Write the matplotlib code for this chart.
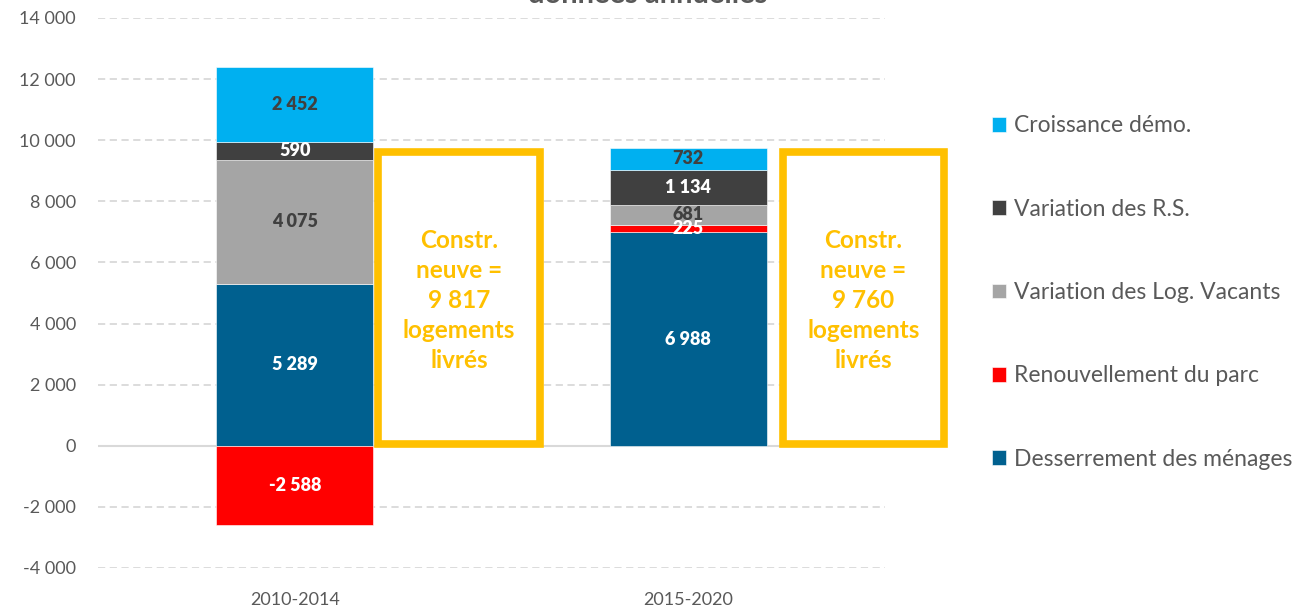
import matplotlib
matplotlib.use("Agg")
import matplotlib.pyplot as plt
from matplotlib.patches import Rectangle
from matplotlib.ticker import FuncFormatter
import numpy as np

plt.rcParams['font.family'] = ['Lato', 'DejaVu Sans']

categories = ["2010-2014", "2015-2020"]
series_names = ["Desserrement des ménages", "Renouvellement du parc",
                "Variation des Log. Vacants", "Variation des R.S.", "Croissance démo."]
desserrement = [5289, 6988]
renouvellement = [-2588, 225]
log_vacants = [4075, 681]
res_secondaires = [590, 1134]
croissance = [2452, 732]
constr_neuve = [9817, 9760]

series_values = [desserrement, renouvellement, log_vacants, res_secondaires, croissance]
series_colors = ["#00608F", "#FF0000", "#A5A5A5", "#404040", "#00B0F0"]
label_colors = ["white", "white", "#404040", "white", "#404040"]

W, H = 1311, 613
fig = plt.figure(figsize=(W / 100, H / 100), dpi=100)
ax = fig.add_axes([98 / W, 1 - 568 / H, (885 - 98) / W, (568 - 18) / H])

x = np.arange(len(categories))
bar_w = 0.4
pos_base = np.zeros(len(categories))
neg_base = np.zeros(len(categories))
handles = []
for name, vals, col, lcol in zip(series_names, series_values, series_colors, label_colors):
    vals = np.array(vals, dtype=float)
    bottoms = np.where(vals >= 0, pos_base, neg_base)
    b = ax.bar(x, vals, bar_w, bottom=bottoms, color=col, edgecolor="white",
               linewidth=0.4, label=name, zorder=3)
    handles.append(b)
    for xi, v, bt in zip(x, vals, bottoms):
        txt = f"{int(v):,}".replace(",", " ")
        ax.text(xi, bt + v / 2, txt, ha="center", va="center", color=lcol,
                fontsize=13, fontweight="heavy", zorder=5)
    pos_base = pos_base + np.where(vals >= 0, vals, 0)
    neg_base = neg_base + np.where(vals < 0, vals, 0)

ax.set_xlim(-0.5, 1.5)
ax.set_ylim(-4000, 14000)
ax.set_yticks(np.arange(-4000, 14001, 2000))
ax.yaxis.set_major_formatter(FuncFormatter(lambda v, p: f"{int(v):,}".replace(",", " ")))
ax.set_xticks(x)
ax.set_xticklabels(categories)
ax.tick_params(axis="both", length=0, labelsize=13, colors="#595959")
ax.tick_params(axis="y", pad=16)
ax.tick_params(axis="x", pad=17)
for s in ax.spines.values():
    s.set_visible(False)
ax.grid(axis="y", color="#D9D9D9", linestyle=(0, (4, 2.5)), linewidth=1.3, zorder=0)
ax.axhline(0, color="#D9D9D9", linewidth=1.5, zorder=2)

# Yellow annotation boxes
box_x = [0.417, 1.445]
for bx, val in zip(box_x, constr_neuve):
    rect = Rectangle((bx - 0.205, 70), 0.41, 9560, facecolor="white",
                     edgecolor="#FFC000", linewidth=5.5, zorder=4, clip_on=False)
    ax.add_patch(rect)
    txt = "Constr.\nneuve =\n" + f"{val:,}".replace(",", " ") + "\nlogements\nlivrés"
    ax.text(bx, 4750, txt, ha="center", va="center", color="#FFC000",
            fontsize=17.5, fontweight="bold", linespacing=1.37, zorder=6)

leg = fig.legend(handles=handles[::-1], labels=series_names[::-1],
                 loc="center left", bbox_to_anchor=(992 / W, 1 - 292.5 / H),
                 frameon=False, fontsize=16.5, handlelength=0.6, handleheight=0.6,
                 handletextpad=0.35, labelspacing=2.72, borderpad=0, borderaxespad=0)
for t in leg.get_texts():
    t.set_color("#595959")

fig.text(648 / W, 1 - 3 / H, "données annuelles", ha="center", va="baseline",
         fontsize=21, fontweight="bold", color="#595959")

fig.savefig("out.png", dpi=100)
